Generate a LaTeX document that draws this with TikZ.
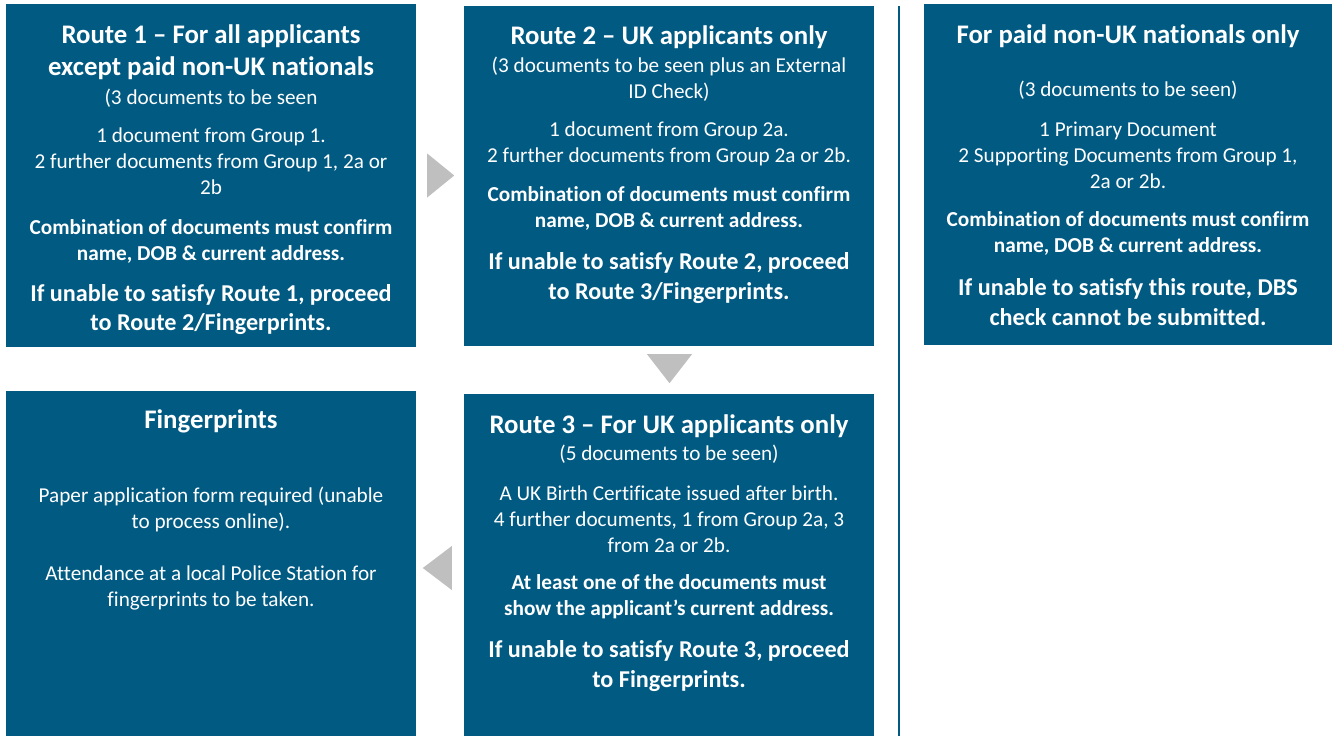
\documentclass[tikz,border=0pt]{standalone}
\usepackage{fontspec}
\setmainfont[Ligatures={NoCommon,NoContextual},RawFeature={-liga;-clig;-calt;-dlig}]{Carlito}
\usetikzlibrary{calc}
\definecolor{boxblue}{HTML}{005A82}
\definecolor{arrowgray}{HTML}{BFBFBF}
\tikzset{
  box/.style={rectangle, fill=boxblue, draw=none, inner sep=0pt},
  txt/.style={text=white, align=center, yshift=-2pt},
  ttl/.style={txt, font=\fontsize{26.8}{32}\selectfont\bfseries},
  body/.style={txt, font=\fontsize{21.2}{26}\selectfont},
  bbody/.style={txt, font=\fontsize{21.3}{26}\selectfont\bfseries},
  big/.style={txt, font=\fontsize{24.2}{29.5}\selectfont\bfseries},
  tri/.style={fill=arrowgray, draw=none},
}
\begin{document}
\begin{tikzpicture}[x=1pt,y=-1pt]
\useasboundingbox[fill=white] (0,0) rectangle (1332,736);
% boxes
\node[box, minimum width=410pt, minimum height=343pt] (r1) at (211,175.5) {};
\node[box, minimum width=410pt, minimum height=340pt] (r2) at (669,176) {};
\node[box, minimum width=410pt, minimum height=342pt] (r3) at (669,565) {};
\node[box, minimum width=410pt, minimum height=345pt] (fp) at (211,563.5) {};
\node[box, minimum width=408pt, minimum height=341pt] (nuk) at (1128,174.5) {};
% divider
\coordinate (divtop) at (899,6);
\coordinate (divbot) at (899,736);
\draw[boxblue, line width=2pt] (divtop) -- (divbot);
% arrows
\fill[tri] ($(r1.east)+(11,-22)$) -- ($(r1.east)+(11,22)$) -- ($(r1.east)+(38,0)$) -- cycle;
\fill[tri] ($(r2.south)+(-22,8)$) -- ($(r2.south)+(23,8)$) -- ($(r2.south)+(0.5,37)$) -- cycle;
\fill[tri] ($(r3.west)+(-12,-19)$) -- ($(r3.west)+(-12,25)$) -- ($(r3.west)+(-41,3)$) -- cycle;
% Route 1 text
\node[ttl] (r1t) at (211,50) {Route 1 – For all applicants\\except paid non-UK nationals};
\node[body] (r1s) at (211,96) {(3 documents to be seen};
\node[body] (r1b) at (211,159.5) {1 document from Group 1.\\2 further documents from Group 1, 2a or\\2b};
\node[bbody] (r1c) at (211,239) {Combination of documents must confirm\\name, DOB \& current address.};
\node[big] (r1d) at (211,307.5) {If unable to satisfy Route 1, proceed\\to Route 2/Fingerprints.};
% Route 2 text
\node[ttl] (r2t) at (669,35) {Route 2 – UK applicants only};
\node[body] (r2s) at (669,77) {(3 documents to be seen plus an External\\ID Check)};
\node[body] (r2b) at (669,142) {1 document from Group 2a.\\2 further documents from Group 2a or 2b.};
\node[bbody] (r2c) at (669,206.5) {Combination of documents must confirm\\name, DOB \& current address.};
\node[big] (r2d) at (669,276) {If unable to satisfy Route 2, proceed\\to Route 3/Fingerprints.};
% Non-UK text
\node[ttl] (nt) at (1128,34) {For paid non-UK nationals only};
\node[body] (ns) at (1128,88) {(3 documents to be seen)};
\node[body] (nb) at (1128,153.5) {1 Primary Document\\2 Supporting Documents from Group 1,\\2a or 2b.};
\node[bbody] (nc) at (1128,231.5) {Combination of documents must confirm\\name, DOB \& current address.};
\node[big] (nd) at (1128,300) {If unable to satisfy this route, DBS\\check cannot be submitted.};
% Fingerprints text
\node[ttl] (ft) at (211,419) {Fingerprints};
\node[body] (fa) at (211,507) {Paper application form required (unable\\to process online).};
\node[body] (fb) at (211,586) {Attendance at a local Police Station for\\fingerprints to be taken.};
% Route 3 text
\node[ttl] (r3t) at (669,424) {Route 3 – For UK applicants only};
\node[body] (r3s) at (669,452) {(5 documents to be seen)};
\node[body] (r3b) at (669,517) {A UK Birth Certificate issued after birth.\\4 further documents, 1 from Group 2a, 3\\from 2a or 2b.};
\node[bbody] (r3c) at (669,594.5) {At least one of the documents must\\show the applicant’s current address.};
\node[big] (r3d) at (669,664) {If unable to satisfy Route 3, proceed\\to Fingerprints.};
\end{tikzpicture}
\end{document}
